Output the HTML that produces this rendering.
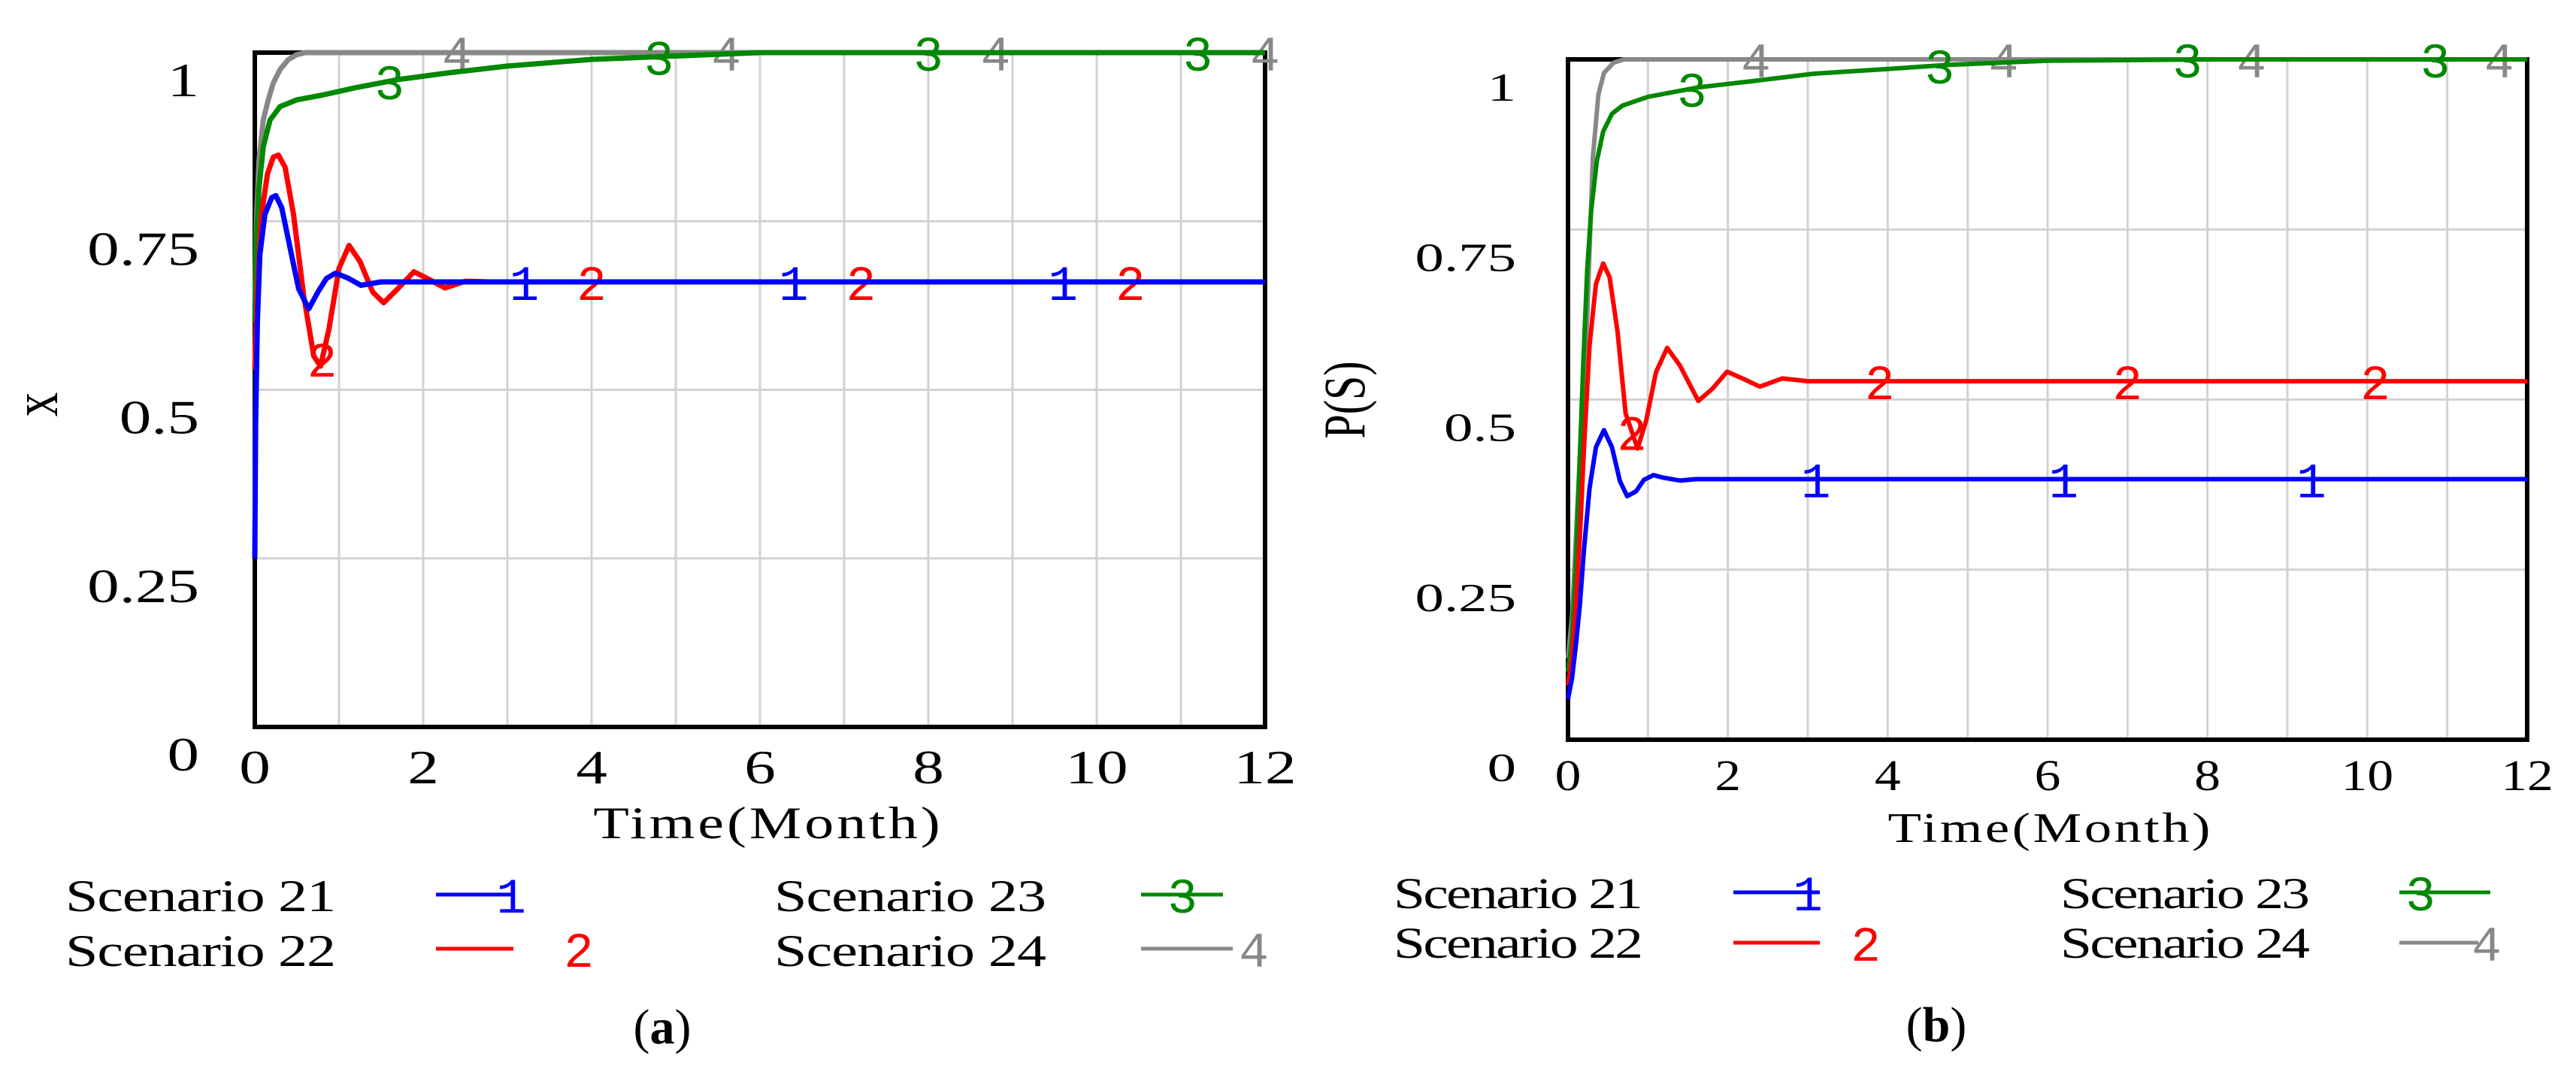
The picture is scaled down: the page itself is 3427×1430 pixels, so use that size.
<!DOCTYPE html>
<html><head><meta charset="utf-8"><style>
html,body{margin:0;padding:0;background:#fff;}
svg{display:block;}
</style></head><body>
<svg id="fig" width="3427" height="1430" viewBox="0 0 3427 1430" xmlns="http://www.w3.org/2000/svg"></svg>
<script>
// ---------- data: panel (a) ----------
const aBlueT=[0,0.01,0.03,0.06,0.12,0.2,0.25,0.32,0.42,0.52,0.64,0.75,0.85,0.96,1.1,1.26,1.5,2,12];
const aBlueV=[0.25,0.45,0.6,0.7,0.76,0.785,0.788,0.77,0.71,0.65,0.62,0.645,0.665,0.673,0.666,0.655,0.66,0.66,0.66];
const aRedT=[0,0.03,0.08,0.15,0.22,0.28,0.36,0.46,0.58,0.7,0.78,0.88,1.0,1.12,1.25,1.4,1.53,1.7,1.89,2.05,2.26,2.5,2.8,12];
const aRedV=[0.53,0.65,0.76,0.82,0.845,0.848,0.83,0.76,0.64,0.55,0.535,0.59,0.68,0.714,0.69,0.645,0.629,0.65,0.675,0.665,0.651,0.661,0.66,0.66];
const aGreenT=[0,0.02,0.05,0.1,0.18,0.3,0.5,0.8,1.2,1.7,2.3,3,4,5,6,8,12];
const aGreenV=[0.6,0.72,0.8,0.86,0.9,0.92,0.93,0.937,0.948,0.96,0.97,0.98,0.99,0.995,1,1,1];
const aGrayT=[0,0.02,0.05,0.1,0.16,0.22,0.3,0.4,0.5,0.6,0.7,12];
const aGrayV=[0.62,0.75,0.84,0.9,0.93,0.955,0.975,0.99,0.997,1,1,1];
// ---------- data: panel (b) ----------
const bBlueT=[0,0.05,0.1,0.15,0.2,0.27,0.35,0.45,0.55,0.65,0.74,0.85,0.95,1.07,1.2,1.4,1.6,12];
const bBlueV=[0.06,0.09,0.14,0.2,0.28,0.37,0.43,0.455,0.43,0.38,0.358,0.365,0.382,0.389,0.385,0.381,0.383,0.383];
const bRedT=[0,0.05,0.1,0.15,0.2,0.27,0.35,0.44,0.52,0.62,0.72,0.87,0.98,1.1,1.24,1.4,1.63,1.8,1.99,2.2,2.4,2.68,3,12];
const bRedV=[0.08,0.12,0.2,0.3,0.43,0.58,0.67,0.70,0.68,0.6,0.48,0.428,0.47,0.54,0.576,0.55,0.498,0.515,0.541,0.53,0.519,0.531,0.527,0.527];
const bGreenT=[0,0.05,0.1,0.14,0.19,0.24,0.29,0.36,0.44,0.55,0.68,1.0,1.64,2.3,3.08,4,4.77,6,8,12];
const bGreenV=[0.1,0.15,0.26,0.39,0.55,0.69,0.777,0.85,0.894,0.92,0.932,0.945,0.959,0.968,0.979,0.986,0.992,0.998,1,1];
const bGrayT=[0,0.05,0.1,0.15,0.2,0.24,0.31,0.38,0.45,0.57,0.7,12];
const bGrayV=[0.12,0.18,0.3,0.42,0.53,0.62,0.855,0.948,0.98,0.995,1,1];
// ---------- ticks / labels ----------
const xTicks=[0,2,4,6,8,10,12];
const yTicks=[0,0.25,0.5,0.75,1];
const yTickLabels=["0","0.25","0.5","0.75","1"];
const scenarioNames=["Scenario 21","Scenario 22","Scenario 23","Scenario 24"];
const seriesDigits=["1","2","3","4"];
const colors=["#0000ff","#ff0000","#008800","#888888"];

const NS="http://www.w3.org/2000/svg";
const svg=document.getElementById('fig');
function el(tag,attrs,parent){const e=document.createElementNS(NS,tag);for(const k in attrs)e.setAttribute(k,attrs[k]);(parent||svg).appendChild(e);return e;}
function txt(x,y,s,size,anchor,sx,parent,extra){
  const g=el('g',{transform:`translate(${x},${y}) scale(${sx},1)`},parent);
  const t=el('text',Object.assign({x:0,y:0,'font-family':'"Liberation Serif", serif','font-size':size,'text-anchor':anchor,fill:'#000'},extra||{}),g);
  t.textContent=s;return t;
}
function interp(T,V,t){for(let i=1;i<T.length;i++){if(t<=T[i]){const f=(t-T[i-1])/(T[i]-T[i-1]);return V[i-1]+f*(V[i]-V[i-1]);}}return V[V.length-1];}

function panel(cfg){
  const {x0,x1,y0,y1,series,markerStart,period,lw,name,ySx,ySize,yBase,xTickBase,xSx,xSize}=cfg;
  const g=el('g',{});
  
  
  const X=t=>x0+(x1-x0)*t/12, Y=v=>y1-(y1-y0)*v;
  for(let m=1;m<12;m++){const l=el('line',{x1:X(m),x2:X(m),y1:y0,y2:y1,stroke:'#d2d2d2','stroke-width':3},g);
    }
  for(let i=1;i<yTicks.length-1;i++){const l=el('line',{x1:x0,x2:x1,y1:Y(yTicks[i]),y2:Y(yTicks[i]),stroke:'#d2d2d2','stroke-width':3},g);
    }
  const fr=el('rect',{x:x0,y:y0,width:x1-x0,height:y1-y0,fill:'none',stroke:'#000','stroke-width':6},g);
  
  yTicks.forEach((v,i)=>{const t=txt(cfg.yRight,Y(v)+yBase,yTickLabels[i],ySize,'end',ySx,g);
    });
  xTicks.forEach(v=>{const t=txt(X(v),xTickBase,String(v),xSize,'middle',xSx,g);
    });
  const order=[3,2,1,0];
  order.forEach(k=>{
    const [T,V]=series[k];
    const pts=T.map((t,i)=>X(t).toFixed(1)+','+Y(V[i]).toFixed(1)).join(' ');
    const p=el('polyline',{points:pts,fill:'none',stroke:colors[k],'stroke-width':lw,'stroke-linejoin':'round'},g);
    
    
    for(let t=markerStart[k];t<=12.01;t+=period){
      if(t<0.3) continue;
      const m=el('text',{x:X(t),y:Y(interp(T,V,t))+24,'font-family':'"Liberation Mono", monospace','font-size':66,'text-anchor':'middle',fill:colors[k]},g);
      m.textContent=seriesDigits[k];
      
      
    }
  });
}

panel({name:'panel-a-chart',x0:339,x1:1683,y0:70,y1:967,lw:7,period:3.2,markerStart:[0,0.8,1.6,2.4],
  series:[[aBlueT,aBlueV],[aRedT,aRedV],[aGreenT,aGreenV],[aGrayT,aGrayV]],
  yRight:265,yBase:58,ySize:63,ySx:1.35,xTickBase:1042,xSize:64,xSx:1.3});
panel({name:'panel-b-chart',x0:2086,x1:3362,y0:79,y1:984,lw:6,period:3.1,markerStart:[0,0.8,1.55,2.35],
  series:[[bBlueT,bBlueV],[bRedT,bRedV],[bGreenT,bGreenV],[bGrayT,bGrayV]],
  yRight:2017,yBase:55,ySize:53,ySx:1.45,xTickBase:1051,xSize:58,xSx:1.2});

let t;
t=txt(1020,1115,'Time(Month)',60,'middle',1.3); t.setAttribute('textLength','355');

t=txt(2726,1120,'Time(Month)',56,'middle',1.3); t.setAttribute('textLength','330');

let gy=el('g',{transform:'translate(76,538) rotate(-90)'});
t=el('text',{x:0,y:0,'font-family':'"Liberation Serif", serif','font-size':64,'text-anchor':'middle',fill:'#000',transform:'scale(1,1.35)'},gy);t.textContent='x';

gy=el('g',{transform:'translate(1815,532) rotate(-90)'});
t=el('text',{x:0,y:0,'font-family':'"Liberation Serif", serif','font-size':58,'text-anchor':'middle',fill:'#000',transform:'scale(1,1.35)'},gy);t.textContent='P(S)';


function legend(x,yBase,name,k,lx1,lx2,ly,digitX,size,w){
  const g=el('g',{});
  
  
  const tt=txt(x,yBase,name,size,'start',1.3,g);tt.setAttribute('textLength',String(w/1.3));
  el('line',{x1:lx1,x2:lx2,y1:ly,y2:ly,stroke:colors[k],'stroke-width':5},g);
  const d=el('text',{x:digitX,y:ly+24,'font-family':'"Liberation Mono", monospace','font-size':66,'text-anchor':'middle',fill:colors[k]},g);
  d.textContent=seriesDigits[k];
}
legend(87,1212,scenarioNames[0],0,580,683,1190,680,60,360);
legend(87,1285,scenarioNames[1],1,580,683,1262,770,60,360);
legend(1030,1212,scenarioNames[2],2,1518,1627,1190,1573,60,362);
legend(1030,1285,scenarioNames[3],3,1518,1640,1262,1668,60,362);
legend(1854,1208,scenarioNames[0],0,2306,2421,1187,2405,58,332);
legend(1854,1274,scenarioNames[1],1,2306,2421,1254,2482,58,332);
legend(2741,1208,scenarioNames[2],2,3192,3313,1187,3220,58,332);
legend(2741,1274,scenarioNames[3],3,3192,3297,1254,3308,58,332);

function caption(x,y,letter,name){
  const tt=el('text',{x:x,y:y,'font-family':'"Liberation Serif", serif','font-size':66,'text-anchor':'middle',fill:'#000'});
  
  const a=el('tspan',{},tt);a.textContent='(';
  const b=el('tspan',{'font-weight':'bold'},tt);b.textContent=letter;
  const c=el('tspan',{},tt);c.textContent=')';
}
caption(881,1388,'a','caption-a');
caption(2576,1385,'b','caption-b');
</script>
</body></html>
